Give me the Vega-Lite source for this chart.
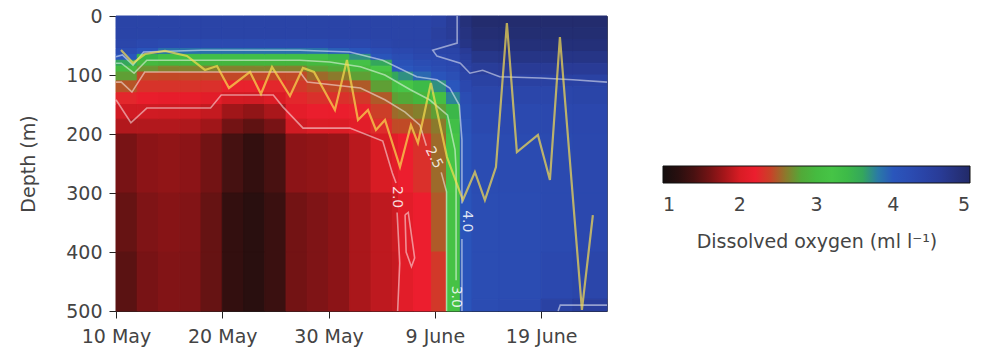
{
"$schema": "https://vega.github.io/schema/vega-lite/v6.json",
"width": 491, "height": 295,
"autosize": {"type": "none"},
"padding": {"left": 116, "top": 16, "right": 378, "bottom": 40},
"background": "white",
"config": {
 "font": "DejaVu Sans",
 "view": {"stroke": null},
 "axis": {"labelFont": "DejaVu Sans", "labelFontSize": 19, "labelColor": "#444", "titleFont": "DejaVu Sans", "titleFontSize": 19, "titleFontWeight": "normal", "titleColor": "#444", "domainColor": "#222", "tickColor": "#222", "tickSize": 7, "grid": false}
},
"datasets": {
"cells": [
{"x":0,"x2":2,"y":0,"y2":20,"v":4.4},{"x":0,"x2":2,"y":20,"y2":40,"v":4.4},{"x":0,"x2":2,"y":40,"y2":55,"v":4.35},{"x":0,"x2":2,"y":55,"y2":65,"v":4.2},{"x":0,"x2":2,"y":65,"y2":75,"v":4.0},{"x":0,"x2":2,"y":75,"y2":85,"v":3.6},{"x":0,"x2":2,"y":85,"y2":95,"v":2.95},{"x":0,"x2":2,"y":95,"y2":110,"v":2.75},{"x":0,"x2":2,"y":110,"y2":130,"v":2.48},{"x":0,"x2":2,"y":130,"y2":150,"v":2.25},{"x":0,"x2":2,"y":150,"y2":175,"v":1.97},{"x":0,"x2":2,"y":175,"y2":200,"v":1.85},{"x":0,"x2":2,"y":200,"y2":300,"v":1.62},{"x":0,"x2":2,"y":300,"y2":400,"v":1.55},{"x":0,"x2":2,"y":400,"y2":500,"v":1.5},
{"x":2,"x2":4,"y":0,"y2":20,"v":4.4},{"x":2,"x2":4,"y":20,"y2":40,"v":4.4},{"x":2,"x2":4,"y":40,"y2":55,"v":4.3},{"x":2,"x2":4,"y":55,"y2":65,"v":4.05},{"x":2,"x2":4,"y":65,"y2":75,"v":3.5},{"x":2,"x2":4,"y":75,"y2":85,"v":2.95},{"x":2,"x2":4,"y":85,"y2":95,"v":2.7},{"x":2,"x2":4,"y":95,"y2":110,"v":2.45},{"x":2,"x2":4,"y":110,"y2":130,"v":2.32},{"x":2,"x2":4,"y":130,"y2":150,"v":2.17},{"x":2,"x2":4,"y":150,"y2":175,"v":1.97},{"x":2,"x2":4,"y":175,"y2":200,"v":1.85},{"x":2,"x2":4,"y":200,"y2":300,"v":1.7},{"x":2,"x2":4,"y":300,"y2":400,"v":1.65},{"x":2,"x2":4,"y":400,"y2":500,"v":1.62},
{"x":4,"x2":6,"y":0,"y2":20,"v":4.4},{"x":4,"x2":6,"y":20,"y2":40,"v":4.4},{"x":4,"x2":6,"y":40,"y2":55,"v":4.25},{"x":4,"x2":6,"y":55,"y2":65,"v":3.85},{"x":4,"x2":6,"y":65,"y2":75,"v":3.3},{"x":4,"x2":6,"y":75,"y2":85,"v":2.88},{"x":4,"x2":6,"y":85,"y2":95,"v":2.62},{"x":4,"x2":6,"y":95,"y2":110,"v":2.44},{"x":4,"x2":6,"y":110,"y2":130,"v":2.32},{"x":4,"x2":6,"y":130,"y2":150,"v":2.15},{"x":4,"x2":6,"y":150,"y2":175,"v":1.96},{"x":4,"x2":6,"y":175,"y2":200,"v":1.85},{"x":4,"x2":6,"y":200,"y2":300,"v":1.72},{"x":4,"x2":6,"y":300,"y2":400,"v":1.68},{"x":4,"x2":6,"y":400,"y2":500,"v":1.66},
{"x":6,"x2":8,"y":0,"y2":20,"v":4.4},{"x":6,"x2":8,"y":20,"y2":40,"v":4.4},{"x":6,"x2":8,"y":40,"y2":55,"v":4.25},{"x":6,"x2":8,"y":55,"y2":65,"v":3.85},{"x":6,"x2":8,"y":65,"y2":75,"v":3.3},{"x":6,"x2":8,"y":75,"y2":85,"v":2.88},{"x":6,"x2":8,"y":85,"y2":95,"v":2.62},{"x":6,"x2":8,"y":95,"y2":110,"v":2.44},{"x":6,"x2":8,"y":110,"y2":130,"v":2.32},{"x":6,"x2":8,"y":130,"y2":150,"v":2.15},{"x":6,"x2":8,"y":150,"y2":175,"v":1.96},{"x":6,"x2":8,"y":175,"y2":200,"v":1.84},{"x":6,"x2":8,"y":200,"y2":300,"v":1.7},{"x":6,"x2":8,"y":300,"y2":400,"v":1.66},{"x":6,"x2":8,"y":400,"y2":500,"v":1.65},
{"x":8,"x2":10,"y":0,"y2":20,"v":4.4},{"x":8,"x2":10,"y":20,"y2":40,"v":4.4},{"x":8,"x2":10,"y":40,"y2":55,"v":4.25},{"x":8,"x2":10,"y":55,"y2":65,"v":3.85},{"x":8,"x2":10,"y":65,"y2":75,"v":3.3},{"x":8,"x2":10,"y":75,"y2":85,"v":2.88},{"x":8,"x2":10,"y":85,"y2":95,"v":2.62},{"x":8,"x2":10,"y":95,"y2":110,"v":2.44},{"x":8,"x2":10,"y":110,"y2":130,"v":2.3},{"x":8,"x2":10,"y":130,"y2":150,"v":2.1},{"x":8,"x2":10,"y":150,"y2":175,"v":1.92},{"x":8,"x2":10,"y":175,"y2":200,"v":1.78},{"x":8,"x2":10,"y":200,"y2":300,"v":1.6},{"x":8,"x2":10,"y":300,"y2":400,"v":1.55},{"x":8,"x2":10,"y":400,"y2":500,"v":1.55},
{"x":10,"x2":12,"y":0,"y2":20,"v":4.4},{"x":10,"x2":12,"y":20,"y2":40,"v":4.4},{"x":10,"x2":12,"y":40,"y2":55,"v":4.25},{"x":10,"x2":12,"y":55,"y2":65,"v":3.85},{"x":10,"x2":12,"y":65,"y2":75,"v":3.3},{"x":10,"x2":12,"y":75,"y2":85,"v":2.88},{"x":10,"x2":12,"y":85,"y2":95,"v":2.62},{"x":10,"x2":12,"y":95,"y2":110,"v":2.44},{"x":10,"x2":12,"y":110,"y2":130,"v":2.22},{"x":10,"x2":12,"y":130,"y2":150,"v":1.98},{"x":10,"x2":12,"y":150,"y2":175,"v":1.78},{"x":10,"x2":12,"y":175,"y2":200,"v":1.6},{"x":10,"x2":12,"y":200,"y2":300,"v":1.38},{"x":10,"x2":12,"y":300,"y2":400,"v":1.28},{"x":10,"x2":12,"y":400,"y2":500,"v":1.28},
{"x":12,"x2":14,"y":0,"y2":20,"v":4.4},{"x":12,"x2":14,"y":20,"y2":40,"v":4.4},{"x":12,"x2":14,"y":40,"y2":55,"v":4.25},{"x":12,"x2":14,"y":55,"y2":65,"v":3.85},{"x":12,"x2":14,"y":65,"y2":75,"v":3.3},{"x":12,"x2":14,"y":75,"y2":85,"v":2.88},{"x":12,"x2":14,"y":85,"y2":95,"v":2.62},{"x":12,"x2":14,"y":95,"y2":110,"v":2.44},{"x":12,"x2":14,"y":110,"y2":130,"v":2.22},{"x":12,"x2":14,"y":130,"y2":150,"v":1.97},{"x":12,"x2":14,"y":150,"y2":175,"v":1.72},{"x":12,"x2":14,"y":175,"y2":200,"v":1.52},{"x":12,"x2":14,"y":200,"y2":300,"v":1.28},{"x":12,"x2":14,"y":300,"y2":400,"v":1.2},{"x":12,"x2":14,"y":400,"y2":500,"v":1.2},
{"x":14,"x2":16,"y":0,"y2":20,"v":4.4},{"x":14,"x2":16,"y":20,"y2":40,"v":4.4},{"x":14,"x2":16,"y":40,"y2":55,"v":4.25},{"x":14,"x2":16,"y":55,"y2":65,"v":3.85},{"x":14,"x2":16,"y":65,"y2":75,"v":3.3},{"x":14,"x2":16,"y":75,"y2":85,"v":2.88},{"x":14,"x2":16,"y":85,"y2":95,"v":2.62},{"x":14,"x2":16,"y":95,"y2":110,"v":2.44},{"x":14,"x2":16,"y":110,"y2":130,"v":2.25},{"x":14,"x2":16,"y":130,"y2":150,"v":2.03},{"x":14,"x2":16,"y":150,"y2":175,"v":1.82},{"x":14,"x2":16,"y":175,"y2":200,"v":1.62},{"x":14,"x2":16,"y":200,"y2":300,"v":1.4},{"x":14,"x2":16,"y":300,"y2":400,"v":1.32},{"x":14,"x2":16,"y":400,"y2":500,"v":1.32},
{"x":16,"x2":18,"y":0,"y2":20,"v":4.4},{"x":16,"x2":18,"y":20,"y2":40,"v":4.4},{"x":16,"x2":18,"y":40,"y2":55,"v":4.25},{"x":16,"x2":18,"y":55,"y2":65,"v":3.85},{"x":16,"x2":18,"y":65,"y2":75,"v":3.3},{"x":16,"x2":18,"y":75,"y2":85,"v":2.88},{"x":16,"x2":18,"y":85,"y2":95,"v":2.62},{"x":16,"x2":18,"y":95,"y2":110,"v":2.45},{"x":16,"x2":18,"y":110,"y2":130,"v":2.35},{"x":16,"x2":18,"y":130,"y2":150,"v":2.25},{"x":16,"x2":18,"y":150,"y2":175,"v":2.12},{"x":16,"x2":18,"y":175,"y2":200,"v":1.97},{"x":16,"x2":18,"y":200,"y2":300,"v":1.7},{"x":16,"x2":18,"y":300,"y2":400,"v":1.6},{"x":16,"x2":18,"y":400,"y2":500,"v":1.6},
{"x":18,"x2":20,"y":0,"y2":20,"v":4.4},{"x":18,"x2":20,"y":20,"y2":40,"v":4.4},{"x":18,"x2":20,"y":40,"y2":55,"v":4.25},{"x":18,"x2":20,"y":55,"y2":65,"v":3.85},{"x":18,"x2":20,"y":65,"y2":75,"v":3.3},{"x":18,"x2":20,"y":75,"y2":85,"v":2.95},{"x":18,"x2":20,"y":85,"y2":95,"v":2.75},{"x":18,"x2":20,"y":95,"y2":110,"v":2.55},{"x":18,"x2":20,"y":110,"y2":130,"v":2.42},{"x":18,"x2":20,"y":130,"y2":150,"v":2.3},{"x":18,"x2":20,"y":150,"y2":175,"v":2.18},{"x":18,"x2":20,"y":175,"y2":200,"v":2.03},{"x":18,"x2":20,"y":200,"y2":300,"v":1.72},{"x":18,"x2":20,"y":300,"y2":400,"v":1.65},{"x":18,"x2":20,"y":400,"y2":500,"v":1.65},
{"x":20,"x2":22,"y":0,"y2":20,"v":4.4},{"x":20,"x2":22,"y":20,"y2":40,"v":4.4},{"x":20,"x2":22,"y":40,"y2":55,"v":4.3},{"x":20,"x2":22,"y":55,"y2":65,"v":3.95},{"x":20,"x2":22,"y":65,"y2":75,"v":3.45},{"x":20,"x2":22,"y":75,"y2":85,"v":2.98},{"x":20,"x2":22,"y":85,"y2":95,"v":2.8},{"x":20,"x2":22,"y":95,"y2":110,"v":2.6},{"x":20,"x2":22,"y":110,"y2":130,"v":2.45},{"x":20,"x2":22,"y":130,"y2":150,"v":2.3},{"x":20,"x2":22,"y":150,"y2":175,"v":2.18},{"x":20,"x2":22,"y":175,"y2":200,"v":2.03},{"x":20,"x2":22,"y":200,"y2":300,"v":1.75},{"x":20,"x2":22,"y":300,"y2":400,"v":1.7},{"x":20,"x2":22,"y":400,"y2":500,"v":1.7},
{"x":22,"x2":24,"y":0,"y2":20,"v":4.4},{"x":22,"x2":24,"y":20,"y2":40,"v":4.4},{"x":22,"x2":24,"y":40,"y2":55,"v":4.3},{"x":22,"x2":24,"y":55,"y2":65,"v":4.05},{"x":22,"x2":24,"y":65,"y2":75,"v":3.7},{"x":22,"x2":24,"y":75,"y2":85,"v":3.25},{"x":22,"x2":24,"y":85,"y2":95,"v":2.95},{"x":22,"x2":24,"y":95,"y2":110,"v":2.75},{"x":22,"x2":24,"y":110,"y2":130,"v":2.5},{"x":22,"x2":24,"y":130,"y2":150,"v":2.35},{"x":22,"x2":24,"y":150,"y2":175,"v":2.22},{"x":22,"x2":24,"y":175,"y2":200,"v":2.1},{"x":22,"x2":24,"y":200,"y2":300,"v":1.88},{"x":22,"x2":24,"y":300,"y2":400,"v":1.82},{"x":22,"x2":24,"y":400,"y2":500,"v":1.82},
{"x":24,"x2":26,"y":0,"y2":20,"v":4.4},{"x":24,"x2":26,"y":20,"y2":40,"v":4.4},{"x":24,"x2":26,"y":40,"y2":55,"v":4.35},{"x":24,"x2":26,"y":55,"y2":65,"v":4.2},{"x":24,"x2":26,"y":65,"y2":75,"v":4.05},{"x":24,"x2":26,"y":75,"y2":85,"v":3.6},{"x":24,"x2":26,"y":85,"y2":95,"v":3.2},{"x":24,"x2":26,"y":95,"y2":110,"v":2.95},{"x":24,"x2":26,"y":110,"y2":130,"v":2.75},{"x":24,"x2":26,"y":130,"y2":150,"v":2.5},{"x":24,"x2":26,"y":150,"y2":175,"v":2.38},{"x":24,"x2":26,"y":175,"y2":200,"v":2.28},{"x":24,"x2":26,"y":200,"y2":300,"v":2.0},{"x":24,"x2":26,"y":300,"y2":400,"v":1.9},{"x":24,"x2":26,"y":400,"y2":500,"v":1.9},
{"x":26,"x2":26.6,"y":0,"y2":20,"v":4.4},{"x":26,"x2":26.6,"y":20,"y2":40,"v":4.4},{"x":26,"x2":26.6,"y":40,"y2":55,"v":4.4},{"x":26,"x2":26.6,"y":55,"y2":65,"v":4.3},{"x":26,"x2":26.6,"y":65,"y2":75,"v":4.2},{"x":26,"x2":26.6,"y":75,"y2":85,"v":4.1},{"x":26,"x2":26.6,"y":85,"y2":95,"v":4.0},{"x":26,"x2":26.6,"y":95,"y2":110,"v":3.6},{"x":26,"x2":26.6,"y":110,"y2":130,"v":3.1},{"x":26,"x2":26.6,"y":130,"y2":150,"v":2.75},{"x":26,"x2":26.6,"y":150,"y2":175,"v":2.55},{"x":26,"x2":26.6,"y":175,"y2":200,"v":2.45},{"x":26,"x2":26.6,"y":200,"y2":300,"v":2.1},{"x":26,"x2":26.6,"y":300,"y2":400,"v":1.95},{"x":26,"x2":26.6,"y":400,"y2":500,"v":1.93},
{"x":26.6,"x2":28,"y":0,"y2":20,"v":4.4},{"x":26.6,"x2":28,"y":20,"y2":40,"v":4.4},{"x":26.6,"x2":28,"y":40,"y2":55,"v":4.4},{"x":26.6,"x2":28,"y":55,"y2":65,"v":4.3},{"x":26.6,"x2":28,"y":65,"y2":75,"v":4.2},{"x":26.6,"x2":28,"y":75,"y2":85,"v":4.1},{"x":26.6,"x2":28,"y":85,"y2":95,"v":4.0},{"x":26.6,"x2":28,"y":95,"y2":110,"v":3.7},{"x":26.6,"x2":28,"y":110,"y2":130,"v":3.2},{"x":26.6,"x2":28,"y":130,"y2":150,"v":2.8},{"x":26.6,"x2":28,"y":150,"y2":175,"v":2.58},{"x":26.6,"x2":28,"y":175,"y2":200,"v":2.45},{"x":26.6,"x2":28,"y":200,"y2":300,"v":2.2},{"x":26.6,"x2":28,"y":300,"y2":400,"v":2.1},{"x":26.6,"x2":28,"y":400,"y2":500,"v":2.1},
{"x":28,"x2":29.7,"y":0,"y2":20,"v":4.4},{"x":28,"x2":29.7,"y":20,"y2":40,"v":4.4},{"x":28,"x2":29.7,"y":40,"y2":55,"v":4.4},{"x":28,"x2":29.7,"y":55,"y2":65,"v":4.35},{"x":28,"x2":29.7,"y":65,"y2":75,"v":4.3},{"x":28,"x2":29.7,"y":75,"y2":85,"v":4.2},{"x":28,"x2":29.7,"y":85,"y2":95,"v":4.1},{"x":28,"x2":29.7,"y":95,"y2":110,"v":3.9},{"x":28,"x2":29.7,"y":110,"y2":130,"v":3.4},{"x":28,"x2":29.7,"y":130,"y2":150,"v":2.9},{"x":28,"x2":29.7,"y":150,"y2":175,"v":2.62},{"x":28,"x2":29.7,"y":175,"y2":200,"v":2.5},{"x":28,"x2":29.7,"y":200,"y2":300,"v":2.3},{"x":28,"x2":29.7,"y":300,"y2":400,"v":2.2},{"x":28,"x2":29.7,"y":400,"y2":500,"v":2.2},
{"x":29.7,"x2":31.1,"y":0,"y2":20,"v":4.45},{"x":29.7,"x2":31.1,"y":20,"y2":40,"v":4.5},{"x":29.7,"x2":31.1,"y":40,"y2":55,"v":4.45},{"x":29.7,"x2":31.1,"y":55,"y2":65,"v":4.4},{"x":29.7,"x2":31.1,"y":65,"y2":75,"v":4.3},{"x":29.7,"x2":31.1,"y":75,"y2":85,"v":4.25},{"x":29.7,"x2":31.1,"y":85,"y2":95,"v":4.2},{"x":29.7,"x2":31.1,"y":95,"y2":110,"v":4.05},{"x":29.7,"x2":31.1,"y":110,"y2":130,"v":3.7},{"x":29.7,"x2":31.1,"y":130,"y2":150,"v":3.1},{"x":29.7,"x2":31.1,"y":150,"y2":175,"v":2.75},{"x":29.7,"x2":31.1,"y":175,"y2":200,"v":2.6},{"x":29.7,"x2":31.1,"y":200,"y2":300,"v":2.55},{"x":29.7,"x2":31.1,"y":300,"y2":400,"v":2.5},{"x":29.7,"x2":31.1,"y":400,"y2":500,"v":2.35},
{"x":31.1,"x2":32.4,"y":0,"y2":20,"v":4.6},{"x":31.1,"x2":32.4,"y":20,"y2":40,"v":4.6},{"x":31.1,"x2":32.4,"y":40,"y2":55,"v":4.5},{"x":31.1,"x2":32.4,"y":55,"y2":65,"v":4.4},{"x":31.1,"x2":32.4,"y":65,"y2":75,"v":4.35},{"x":31.1,"x2":32.4,"y":75,"y2":85,"v":4.3},{"x":31.1,"x2":32.4,"y":85,"y2":95,"v":4.25},{"x":31.1,"x2":32.4,"y":95,"y2":110,"v":4.15},{"x":31.1,"x2":32.4,"y":110,"y2":130,"v":4.0},{"x":31.1,"x2":32.4,"y":130,"y2":150,"v":3.75},{"x":31.1,"x2":32.4,"y":150,"y2":175,"v":3.45},{"x":31.1,"x2":32.4,"y":175,"y2":200,"v":3.3},{"x":31.1,"x2":32.4,"y":200,"y2":300,"v":3.2},{"x":31.1,"x2":32.4,"y":300,"y2":400,"v":3.15},{"x":31.1,"x2":32.4,"y":400,"y2":500,"v":3.15},
{"x":32.4,"x2":33.5,"y":0,"y2":20,"v":4.85},{"x":32.4,"x2":33.5,"y":20,"y2":40,"v":4.8},{"x":32.4,"x2":33.5,"y":40,"y2":55,"v":4.75},{"x":32.4,"x2":33.5,"y":55,"y2":65,"v":4.62},{"x":32.4,"x2":33.5,"y":65,"y2":75,"v":4.55},{"x":32.4,"x2":33.5,"y":75,"y2":85,"v":4.5},{"x":32.4,"x2":33.5,"y":85,"y2":95,"v":4.45},{"x":32.4,"x2":33.5,"y":95,"y2":110,"v":4.4},{"x":32.4,"x2":33.5,"y":110,"y2":130,"v":4.3},{"x":32.4,"x2":33.5,"y":130,"y2":150,"v":4.2},{"x":32.4,"x2":33.5,"y":150,"y2":175,"v":4.12},{"x":32.4,"x2":33.5,"y":175,"y2":200,"v":4.08},{"x":32.4,"x2":33.5,"y":200,"y2":300,"v":4.05},{"x":32.4,"x2":33.5,"y":300,"y2":400,"v":4.05},{"x":32.4,"x2":33.5,"y":400,"y2":500,"v":4.05},
{"x":33.5,"x2":36,"y":0,"y2":20,"v":4.95},{"x":33.5,"x2":36,"y":20,"y2":40,"v":4.9},{"x":33.5,"x2":36,"y":40,"y2":60,"v":4.85},{"x":33.5,"x2":36,"y":60,"y2":80,"v":4.72},{"x":33.5,"x2":36,"y":80,"y2":100,"v":4.58},{"x":33.5,"x2":36,"y":100,"y2":120,"v":4.45},{"x":33.5,"x2":36,"y":120,"y2":150,"v":4.35},{"x":33.5,"x2":36,"y":150,"y2":200,"v":4.28},{"x":33.5,"x2":36,"y":200,"y2":300,"v":4.22},{"x":33.5,"x2":36,"y":300,"y2":400,"v":4.2},{"x":33.5,"x2":36,"y":400,"y2":480,"v":4.2},{"x":33.5,"x2":36,"y":480,"y2":500,"v":4.22},
{"x":36,"x2":40,"y":0,"y2":20,"v":4.95},{"x":36,"x2":40,"y":20,"y2":40,"v":4.92},{"x":36,"x2":40,"y":40,"y2":60,"v":4.86},{"x":36,"x2":40,"y":60,"y2":80,"v":4.75},{"x":36,"x2":40,"y":80,"y2":100,"v":4.62},{"x":36,"x2":40,"y":100,"y2":120,"v":4.47},{"x":36,"x2":40,"y":120,"y2":150,"v":4.36},{"x":36,"x2":40,"y":150,"y2":200,"v":4.28},{"x":36,"x2":40,"y":200,"y2":300,"v":4.24},{"x":36,"x2":40,"y":300,"y2":400,"v":4.22},{"x":36,"x2":40,"y":400,"y2":480,"v":4.22},{"x":36,"x2":40,"y":480,"y2":500,"v":4.25},
{"x":40,"x2":43,"y":0,"y2":20,"v":4.95},{"x":40,"x2":43,"y":20,"y2":40,"v":4.92},{"x":40,"x2":43,"y":40,"y2":60,"v":4.86},{"x":40,"x2":43,"y":60,"y2":80,"v":4.75},{"x":40,"x2":43,"y":80,"y2":100,"v":4.62},{"x":40,"x2":43,"y":100,"y2":120,"v":4.47},{"x":40,"x2":43,"y":120,"y2":150,"v":4.36},{"x":40,"x2":43,"y":150,"y2":200,"v":4.3},{"x":40,"x2":43,"y":200,"y2":300,"v":4.26},{"x":40,"x2":43,"y":300,"y2":400,"v":4.25},{"x":40,"x2":43,"y":400,"y2":480,"v":4.3},{"x":40,"x2":43,"y":480,"y2":500,"v":4.45},
{"x":43,"x2":46.2,"y":0,"y2":20,"v":4.95},{"x":43,"x2":46.2,"y":20,"y2":40,"v":4.92},{"x":43,"x2":46.2,"y":40,"y2":60,"v":4.86},{"x":43,"x2":46.2,"y":60,"y2":80,"v":4.75},{"x":43,"x2":46.2,"y":80,"y2":100,"v":4.62},{"x":43,"x2":46.2,"y":100,"y2":120,"v":4.45},{"x":43,"x2":46.2,"y":120,"y2":150,"v":4.38},{"x":43,"x2":46.2,"y":150,"y2":200,"v":4.32},{"x":43,"x2":46.2,"y":200,"y2":300,"v":4.3},{"x":43,"x2":46.2,"y":300,"y2":400,"v":4.3},{"x":43,"x2":46.2,"y":400,"y2":480,"v":4.35},{"x":43,"x2":46.2,"y":480,"y2":500,"v":4.55}
],
"contours": [
{"c":"4.0a","x":0,"y":69},{"c":"4.0a","x":0.6,"y":66},{"c":"4.0a","x":1.6,"y":83},{"c":"4.0a","x":2.6,"y":61},{"c":"4.0a","x":8,"y":58},{"c":"4.0a","x":17.3,"y":58},{"c":"4.0a","x":22,"y":61},{"c":"4.0a","x":25.1,"y":75},{"c":"4.0a","x":28.3,"y":103},{"c":"4.0a","x":30.2,"y":108},{"c":"4.0a","x":31.4,"y":122},{"c":"4.0a","x":32.3,"y":151},{"c":"4.0a","x":32.55,"y":210},{"c":"4.0a","x":32.55,"y":318},
{"c":"4.0b","x":32.55,"y":378},{"c":"4.0b","x":32.55,"y":500},
{"c":"3.0a","x":0,"y":80},{"c":"3.0a","x":0.5,"y":80},{"c":"3.0a","x":1.7,"y":97},{"c":"3.0a","x":2.9,"y":75},{"c":"3.0a","x":17.3,"y":75},{"c":"3.0a","x":20.1,"y":78},{"c":"3.0a","x":23,"y":86},{"c":"3.0a","x":25.3,"y":100},{"c":"3.0a","x":27.7,"y":125},{"c":"3.0a","x":29.5,"y":142},{"c":"3.0a","x":31.2,"y":168},{"c":"3.0a","x":31.9,"y":227},{"c":"3.0a","x":32.0,"y":260},{"c":"3.0a","x":32.0,"y":448},
{"c":"2.5a","x":0,"y":112},{"c":"2.5a","x":0.5,"y":112},{"c":"2.5a","x":1.5,"y":129},{"c":"2.5a","x":2.7,"y":95},{"c":"2.5a","x":17.3,"y":95},{"c":"2.5a","x":18,"y":112},{"c":"2.5a","x":23,"y":122},{"c":"2.5a","x":25.3,"y":142},{"c":"2.5a","x":27.2,"y":163},{"c":"2.5a","x":28.6,"y":185},{"c":"2.5a","x":29.2,"y":220},
{"c":"2.5b","x":30.6,"y":265},{"c":"2.5b","x":31.1,"y":298},{"c":"2.5b","x":31.1,"y":500},
{"c":"2.0a","x":0,"y":142},{"c":"2.0a","x":1.4,"y":181},{"c":"2.0a","x":2.9,"y":156},{"c":"2.0a","x":8.9,"y":156},{"c":"2.0a","x":9.9,"y":134},{"c":"2.0a","x":14.8,"y":134},{"c":"2.0a","x":15.7,"y":154},{"c":"2.0a","x":17.6,"y":190},{"c":"2.0a","x":22,"y":190},{"c":"2.0a","x":25.1,"y":212},{"c":"2.0a","x":26,"y":266},{"c":"2.0a","x":26.35,"y":283},
{"c":"2.0b","x":26.45,"y":333},{"c":"2.0b","x":26.7,"y":419},{"c":"2.0b","x":26.5,"y":500},
{"c":"2.0c","x":27.2,"y":337},{"c":"2.0c","x":27.5,"y":333},{"c":"2.0c","x":28.1,"y":410},{"c":"2.0c","x":27.8,"y":425},{"c":"2.0c","x":27.3,"y":400},{"c":"2.0c","x":27.2,"y":337},
{"c":"4.5a","x":32.1,"y":0},{"c":"4.5a","x":32.1,"y":46},{"c":"4.5a","x":29.8,"y":58},{"c":"4.5a","x":30.2,"y":68},{"c":"4.5a","x":32.4,"y":80},{"c":"4.5a","x":33.3,"y":97},{"c":"4.5a","x":34.5,"y":92},{"c":"4.5a","x":36.1,"y":103},{"c":"4.5a","x":39.9,"y":105},{"c":"4.5a","x":43,"y":108},{"c":"4.5a","x":46.2,"y":112},
{"c":"4.5b","x":41.6,"y":500},{"c":"4.5b","x":41.8,"y":490},{"c":"4.5b","x":46.2,"y":490}
],
"track": [
{"x":0.47,"y":57.6},{"x":1.6,"y":79.7},{"x":2.73,"y":64.4},{"x":4.61,"y":59.3},{"x":6.68,"y":67.8},{"x":8.37,"y":91.5},{"x":9.5,"y":84.8},{"x":10.63,"y":122},{"x":12.61,"y":94.9},{"x":13.64,"y":132.2},{"x":14.68,"y":86.4},{"x":16.37,"y":135.6},{"x":17.59,"y":88.1},{"x":18.63,"y":94.9},{"x":20.6,"y":159.3},{"x":21.73,"y":74.6},{"x":22.77,"y":176.3},{"x":23.71,"y":159.3},{"x":24.46,"y":193.2},{"x":25.31,"y":176.3},{"x":26.72,"y":255.9},{"x":27.75,"y":184.8},{"x":28.41,"y":215.3},{"x":29.63,"y":113.6},{"x":31.14,"y":239},{"x":32.64,"y":311.9},{"x":33.77,"y":264.4},{"x":34.71,"y":311.9},{"x":35.75,"y":255.9},{"x":36.78,"y":11.9},{"x":37.72,"y":230.5},{"x":39.7,"y":201.7},{"x":40.83,"y":278},{"x":41.77,"y":35.6},{"x":43.84,"y":498.3},{"x":44.87,"y":337.3}
],
"labels90": [
{"x":33.0,"y":348,"t":"4.0"},{"x":32.0,"y":476,"t":"3.0"},{"x":26.45,"y":307,"t":"2.0"}
],
"labels63": [
{"x":29.9,"y":240,"t":"2.5"}
]
},
"layer": [
{
"data": {"name": "cells"},
"mark": {"type": "rect", "strokeWidth": 1},
"encoding": {
 "x": {"field": "x", "type": "quantitative", "scale": {"domain": [0, 46.2], "nice": false, "zero": false},
  "axis": {"values": [0, 10, 20, 30, 40], "labelExpr": "['10 May','20 May','30 May','9 June','19 June'][round(datum.value/10)]", "title": null, "labelPadding": 9, "labelFlush": false}},
 "x2": {"field": "x2"},
 "y": {"field": "y", "type": "quantitative", "scale": {"domain": [0, 500], "reverse": true, "nice": false, "zero": false},
  "axis": {"values": [0, 100, 200, 300, 400, 500], "title": "Depth (m)", "titlePadding": 27, "labelPadding": 7}},
 "y2": {"field": "y2"},
 "color": {"field": "v", "type": "quantitative",
  "scale": {"domain": [1, 1.25, 1.5, 1.75, 2.0, 2.2, 2.45, 2.65, 2.85, 3.2, 3.55, 3.8, 4.0, 4.3, 4.6, 5.0],
   "range": ["#140e0e", "#2e0f0f", "#5a1212", "#981518", "#d81c24", "#ec1e2e", "#c04a26", "#7a8a2e", "#44b43c", "#46c446", "#36b24a", "#2a7aa6", "#2a56bc", "#2b48ae", "#293c98", "#222a68"], "interpolate": "rgb"},
  "legend": {"type": "gradient", "orient": "none", "legendX": 547, "legendY": 150, "direction": "horizontal", "gradientLength": 307, "gradientThickness": 17, "gradientStrokeColor": "#111", "gradientStrokeWidth": 1, "values": [1, 2, 3, 4, 5], "format": "d", "labelAlign": "center", "labelFont": "DejaVu Sans", "labelFontSize": 19, "labelColor": "#444", "labelOffset": 13, "labelLimit": 100, "title": "Dissolved oxygen (ml l⁻¹)", "titleLimit": 400, "titleOrient": "bottom", "titleAnchor": "middle", "titleFont": "DejaVu Sans", "titleFontSize": 19, "titleFontWeight": "normal", "titleColor": "#444", "titlePadding": 18}},
 "stroke": {"field": "v", "type": "quantitative",
  "scale": {"domain": [0.999, 1.25, 1.5, 1.75, 2.0, 2.2, 2.45, 2.65, 2.85, 3.2, 3.55, 3.8, 4.0, 4.3, 4.6, 5.001],
   "range": ["#140e0e", "#2e0f0f", "#5a1212", "#981518", "#d81c24", "#ec1e2e", "#c04a26", "#7a8a2e", "#44b43c", "#46c446", "#36b24a", "#2a7aa6", "#2a56bc", "#2b48ae", "#293c98", "#222a68"], "interpolate": "rgb"},
  "legend": null}
}
},
{
"data": {"name": "contours"},
"mark": {"type": "line", "stroke": "white", "strokeOpacity": 0.5, "strokeWidth": 1.6},
"encoding": {
 "x": {"field": "x", "type": "quantitative", "axis": {"orient": "top", "labels": false, "ticks": false, "title": null, "domainColor": "#555"}},
 "y": {"field": "y", "type": "quantitative", "axis": {"orient": "right", "labels": false, "ticks": false, "title": null, "domainColor": "#555"}},
 "detail": {"field": "c"},
 "order": {"value": null}
}
},
{
"data": {"name": "track"},
"mark": {"type": "line", "stroke": "#fade50", "strokeOpacity": 0.7, "strokeWidth": 2.2},
"encoding": {
 "x": {"field": "x", "type": "quantitative", "axis": null},
 "y": {"field": "y", "type": "quantitative", "axis": null},
 "order": {"value": null}
}
},
{
"data": {"name": "labels90"},
"mark": {"type": "text", "angle": 90, "fill": "white", "fillOpacity": 0.85, "fontSize": 14, "font": "DejaVu Sans"},
"encoding": {
 "x": {"field": "x", "type": "quantitative", "axis": null},
 "y": {"field": "y", "type": "quantitative", "axis": null},
 "text": {"field": "t"}
}
},
{
"data": {"name": "labels63"},
"mark": {"type": "text", "angle": 63, "fill": "white", "fillOpacity": 0.85, "fontSize": 14, "font": "DejaVu Sans"},
"encoding": {
 "x": {"field": "x", "type": "quantitative", "axis": null},
 "y": {"field": "y", "type": "quantitative", "axis": null},
 "text": {"field": "t"}
}
}
],
"resolve": {"axis": {"x": "independent", "y": "independent"}}
}
